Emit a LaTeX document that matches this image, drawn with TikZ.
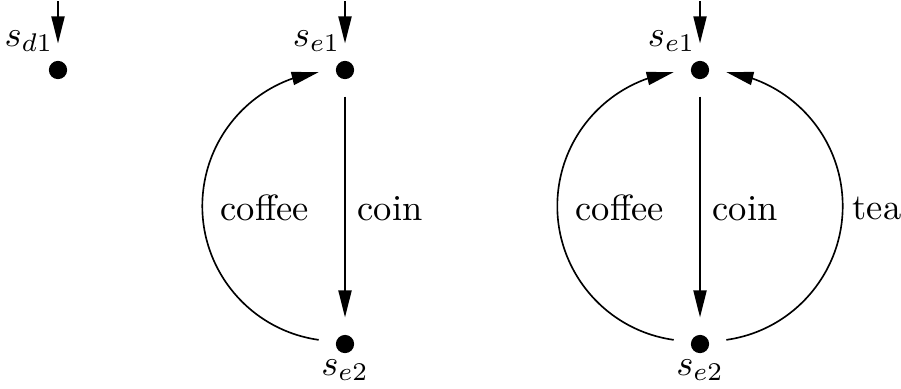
\documentclass[tikz,border=0pt]{standalone}
\usetikzlibrary{arrows.meta,bending}
\begin{document}
\begin{tikzpicture}[x=0.274pt, y=-0.274pt,
  dot/.style={circle, minimum size=14.2pt, inner sep=0pt},
  arr/.style={line width=0.45pt, -{Triangle[length=7.4pt,width=3.6pt,flex]}},
  statelab/.style={inner sep=0pt},
  edgelab/.style={inner sep=0pt, anchor=base west}]
\useasboundingbox (0,0) rectangle (901,388);
% states
\node[dot] (sd1) at (58,70) {};
\node[dot] (se1) at (345,70) {};
\node[dot] (se2) at (345,344) {};
\node[dot] (re1) at (700,70) {};
\node[dot] (re2) at (700,344) {};
\foreach \n in {sd1,se1,se2,re1,re2} \fill (\n.center) circle[radius=2.5pt];
% state labels
\node[statelab, anchor=base east] (ld1) at (54,46) {$s_{d1}$};
\node[statelab, anchor=base east] (le1) at (341,46) {$s_{e1}$};
\node[statelab, anchor=base] (le2) at (345,375) {$s_{e2}$};
\node[statelab, anchor=base east] (lr1) at (696,46) {$s_{e1}$};
\node[statelab, anchor=base] (lr2) at (700,375) {$s_{e2}$};
% initial arrows
\coordinate (i1) at (58,1);
\coordinate (i2) at (345,1);
\coordinate (i3) at (700,1);
\draw[arr] (i1) -- (sd1.north);
\draw[arr] (i2) -- (se1.north);
\draw[arr] (i3) -- (re1.north);
% middle system
\draw[arr] (se1.south) -- (se2.north);
\draw[arr] (se2.171) arc[start angle=262, end angle=98, radius=37.04pt];
\node[edgelab] (tcoin1) at (357,220) {coin};
\node[edgelab] (tcof1) at (220,220) {coffee};
% right system
\draw[arr] (re1.south) -- (re2.north);
\draw[arr] (re2.171) arc[start angle=262, end angle=98, radius=37.04pt];
\draw[arr] (re2.9) arc[start angle=278, end angle=442, radius=37.04pt];
\node[edgelab] (tcoin2) at (712,220) {coin};
\node[edgelab] (tcof2) at (575,220) {coffee};
\node[edgelab] (ttea) at (852,219) {tea};
\end{tikzpicture}
\end{document}
